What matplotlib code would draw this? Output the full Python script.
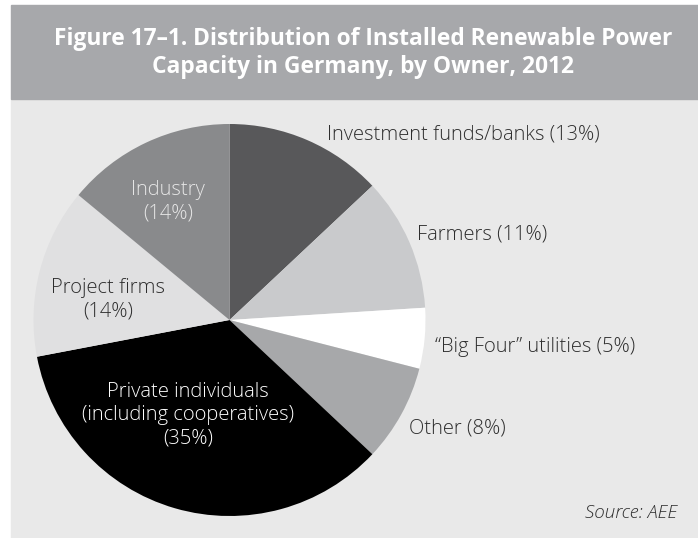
import matplotlib
matplotlib.use("Agg")
import matplotlib.pyplot as plt
from matplotlib.patches import Rectangle

W, H = 698, 538

owners = ["Investment funds/banks", "Farmers", "\u201cBig Four\u201d utilities", "Other",
          "Private individuals\n(including cooperatives)", "Project firms", "Industry"]
shares = [13, 11, 5, 8, 35, 14, 14]
colors = ["#58585a", "#c9cacc", "#ffffff", "#a7a8aa", "#000000", "#e0e0e1", "#898a8c"]

title = "Figure 17\u20131. Distribution of Installed Renewable Power\nCapacity in Germany, by Owner, 2012"
source = "Source: AEE"

plt.rcParams['font.family'] = ['Open Sans', 'DejaVu Sans']


def fx(px):
    return px / W


def fy(py):
    return 1 - py / H


fig = plt.figure(figsize=(W / 100, H / 100), dpi=100)
fig.patch.set_facecolor("white")
# panel backgrounds
fig.patches.append(Rectangle((fx(11), fy(538)), fx(698) - fx(11), fy(99) - fy(538),
                             transform=fig.transFigure, color="#e9e9e9", zorder=-5))
fig.patches.append(Rectangle((fx(11), fy(99)), fx(698) - fx(11), fy(5) - fy(99),
                             transform=fig.transFigure, color="#a7a8ab", zorder=-5))
fig.text(fx(363), fy(53), title, ha="center", va="center", color="white",
         fontsize=16.4, fontweight="bold", linespacing=1.25)

# pie: centre (229.5, 320) px, radius 196 px
cx, cy, r = 229.5, 320, 196
ax = fig.add_axes([fx(cx - r), fy(cy + r), (2 * r) / W, (2 * r) / H])
ax.pie(shares, colors=colors, startangle=90, counterclock=False,
       wedgeprops=dict(linewidth=0))
ax.set_xlim(-1, 1)
ax.set_ylim(-1, 1)
ax.set_aspect("equal")
ax.axis("off")


def d(px, py):
    return (px - cx) / r, (cy - py) / r


fs = 14.5
lab_kw = dict(fontsize=fs, color="#2e2e2e", va="center", fontweight="light")
outside = [(327, 135), (417, 235), (435, 347), (409, 428)]
for i, (px, py) in enumerate(outside):
    x, y = d(px, py)
    ax.text(x, y, f"{owners[i]} ({shares[i]}%)", ha="left", clip_on=False, **lab_kw)

inside = {4: ((188, 415), "white"), 5: ((108, 300), "#2e2e2e"), 6: ((168, 202), "#e6e6e6")}
for i, ((px, py), c) in inside.items():
    x, y = d(px, py)
    ax.text(x, y, f"{owners[i]}\n({shares[i]}%)", ha="center", va="center",
            fontsize=fs, color=c, linespacing=1.22, fontweight="light")

fig.text(fx(677), fy(513), source, ha="right", va="center", fontsize=13.6,
         style="italic", color="#2e2e2e", fontweight="light")

fig.savefig("out.png", dpi=100, facecolor=fig.get_facecolor())
